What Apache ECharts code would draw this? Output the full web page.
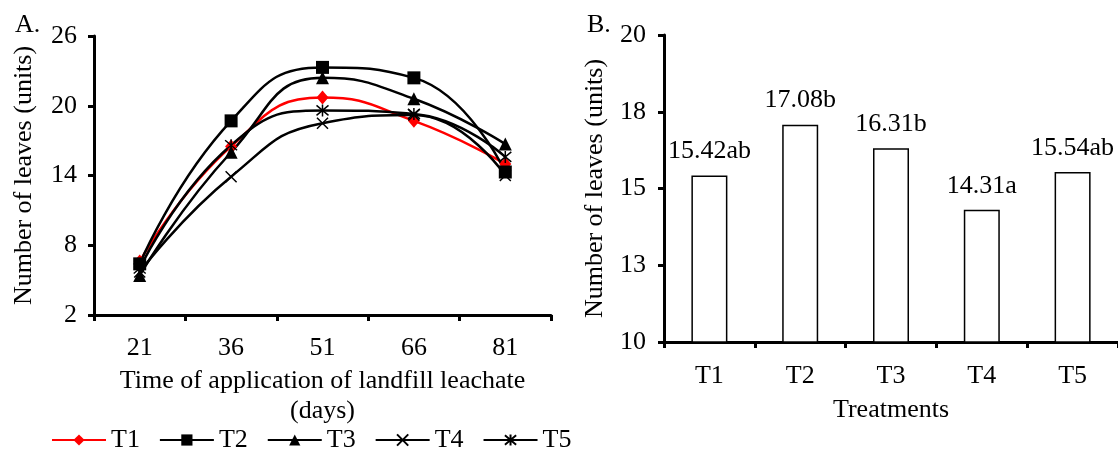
<!DOCTYPE html>
<html>
<head>
<meta charset="utf-8">
<script src="https://cdn.jsdelivr.net/npm/echarts@6/dist/echarts.min.js"></script>
<style>
html,body{margin:0;padding:0;background:#fff;}
#chart{width:1118px;height:450px;}
</style>
</head>
<body>
<div id="chart"></div>
<script>
// ---- Data ----
var days = ['21', '36', '51', '66', '81'];
var t1 = [6.6, 16.5, 20.7, 18.7, 15.0];
var t2 = [6.4, 18.7, 23.3, 22.4, 14.3];
var t3 = [5.4, 16.0, 22.4, 20.6, 16.7];
var t4 = [5.7, 13.9, 18.5, 19.2, 14.0];
var t5 = [6.0, 16.6, 19.6, 19.3, 15.6];
var seriesNames = ['T1', 'T2', 'T3', 'T4', 'T5'];
var leftTicks = [2, 8, 14, 20, 26];

var treatments = ['T1', 'T2', 'T3', 'T4', 'T5'];
var means = [15.42, 17.08, 16.31, 14.31, 15.54];
var letters = ['ab', 'b', 'b', 'a', 'ab'];

// ---- Chart ----
var FONT = 'Liberation Serif';
var FS = 26;
var chart = echarts.init(document.getElementById('chart'), null, {renderer: 'canvas'});

var axisLine = {show: true, lineStyle: {color: '#000', width: 3}};
var axisTick = {show: true, inside: false, length: 6, lineStyle: {color: '#000', width: 3}};
var labelStyle = {color: '#000', fontFamily: FONT, fontSize: FS};

var crossPath = 'path://M0,0L10,10M10,0L0,10';
var starPath = 'path://M0,0L10,10M10,0L0,10M5,-1L5,11';

function lineSeries(name, data, color, symbol, size, hollow) {
  return {
    name: name,
    type: 'line',
    xAxisIndex: 0,
    yAxisIndex: 0,
    data: data,
    smooth: 0.5,
    symbol: symbol,
    symbolSize: size,
    showAllSymbol: true,
    lineStyle: {color: color, width: 2.5},
    itemStyle: hollow ? {color: 'none', borderColor: color, borderWidth: 1.5} : {color: color, borderWidth: 0},
    emphasis: {disabled: true},
    z: 3
  };
}

var option = {
  backgroundColor: '#fff',
  animation: false,
  textStyle: {fontFamily: FONT, color: '#000'},
  title: [
    {text: 'A.', left: 10, top: 7, textStyle: {fontFamily: FONT, fontSize: FS, fontWeight: 'normal', color: '#000'}},
    {text: 'B.', left: 582, top: 7, textStyle: {fontFamily: FONT, fontSize: FS, fontWeight: 'normal', color: '#000'}}
  ],
  legend: {
    data: seriesNames,
    left: 46,
    top: 422,
    itemWidth: 54,
    itemHeight: 14,
    itemGap: 19,
    textStyle: {fontFamily: FONT, fontSize: FS, color: '#000'},
    selectedMode: false
  },
  grid: [
    {left: 94, top: 36, width: 457, height: 279, containLabel: false},
    {left: 664, top: 35, width: 457, height: 307, containLabel: false}
  ],
  xAxis: [
    {
      gridIndex: 0,
      type: 'category',
      data: days,
      boundaryGap: true,
      axisLine: axisLine,
      axisTick: axisTick,
      axisLabel: Object.assign({margin: 20}, labelStyle),
      name: 'Time of application of landfill leachate\n(days)',
      nameLocation: 'middle',
      nameGap: 51,
      nameTextStyle: {fontFamily: FONT, fontSize: FS, color: '#000', lineHeight: 30, verticalAlign: 'top'},
      splitLine: {show: false}
    },
    {
      gridIndex: 1,
      type: 'category',
      data: treatments,
      boundaryGap: true,
      axisLine: axisLine,
      axisTick: axisTick,
      axisLabel: Object.assign({margin: 21}, labelStyle),
      name: 'Treatments',
      nameLocation: 'middle',
      nameGap: 55,
      nameTextStyle: {fontFamily: FONT, fontSize: FS, color: '#000', verticalAlign: 'top'},
      splitLine: {show: false}
    }
  ],
  yAxis: [
    {
      gridIndex: 0,
      type: 'value',
      min: leftTicks[0],
      max: leftTicks[leftTicks.length - 1],
      interval: 6,
      axisLine: axisLine,
      axisTick: axisTick,
      axisLabel: Object.assign({margin: 17}, labelStyle),
      splitLine: {show: false},
      name: 'Number of leaves (units)',
      nameLocation: 'middle',
      nameGap: 57,
      nameRotate: 90,
      nameTextStyle: {fontFamily: FONT, fontSize: FS, color: '#000'}
    },
    {
      gridIndex: 1,
      type: 'value',
      min: 10,
      max: 20,
      interval: 2.5,
      axisLine: axisLine,
      axisTick: axisTick,
      axisLabel: Object.assign({margin: 18, formatter: function (v) { return String(Math.round(v)); }}, labelStyle),
      splitLine: {show: false},
      name: 'Number of leaves (units)',
      nameLocation: 'middle',
      nameGap: 56,
      nameRotate: 90,
      nameTextStyle: {fontFamily: FONT, fontSize: FS, color: '#000'}
    }
  ],
  series: [
    lineSeries('T1', t1, '#ff0000', 'diamond', [12, 14], false),
    lineSeries('T2', t2, '#000000', 'rect', 13, false),
    lineSeries('T3', t3, '#000000', 'triangle', 13, false),
    lineSeries('T4', t4, '#000000', crossPath, 11, true),
    lineSeries('T5', t5, '#000000', starPath, 12, true),
    {
      name: 'Mean',
      type: 'bar',
      xAxisIndex: 1,
      yAxisIndex: 1,
      data: means,
      barWidth: 36,
      itemStyle: {color: '#fff', borderColor: '#000', borderWidth: 1.5},
      label: {
        show: true,
        position: 'top',
        distance: 11,
        fontFamily: FONT,
        fontSize: FS,
        color: '#000',
        formatter: function (p) { return p.value.toFixed(2) + letters[p.dataIndex]; }
      },
      emphasis: {disabled: true}
    }
  ]
};
chart.setOption(option);
</script>
</body>
</html>
